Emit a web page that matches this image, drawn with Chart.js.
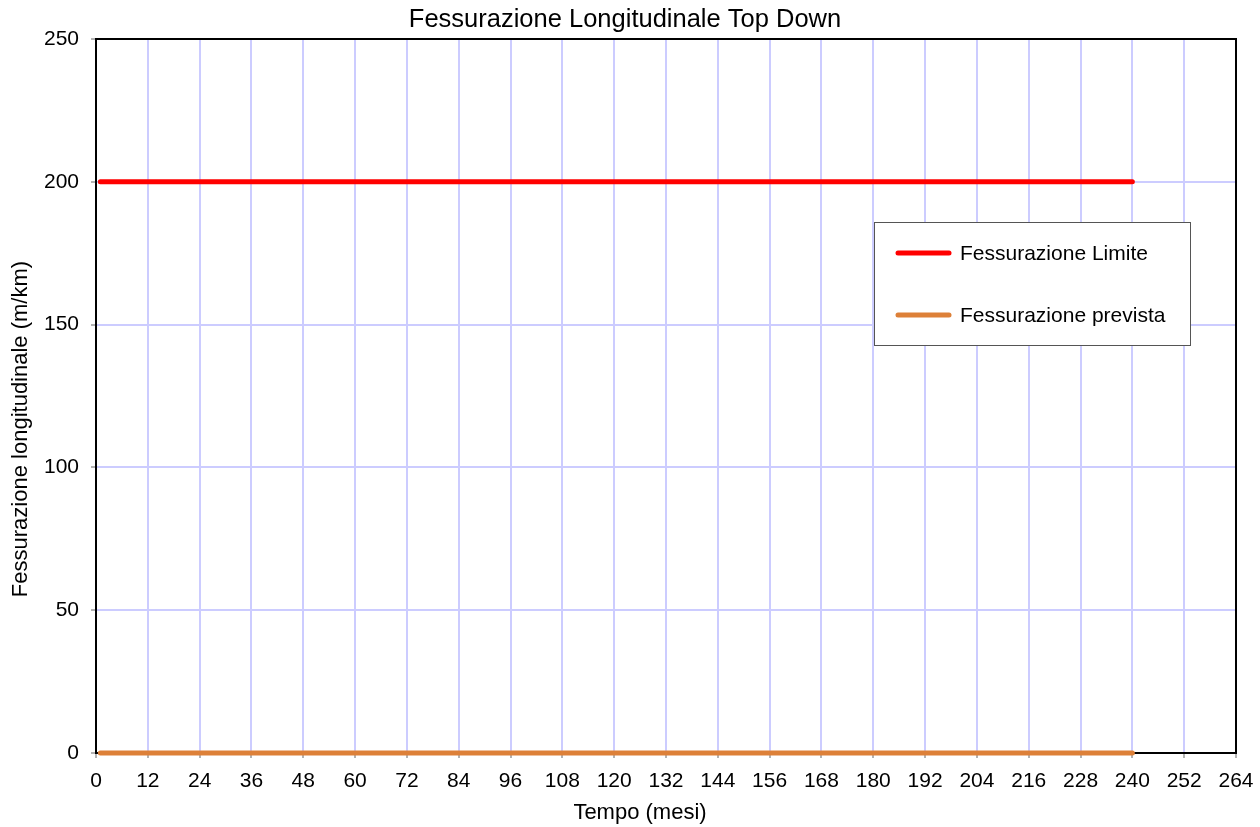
<!DOCTYPE html>
<html>
<head>
<meta charset="utf-8">
<script src="https://cdn.jsdelivr.net/npm/chart.js@4"></script>
<style>
  html, body { margin: 0; padding: 0; background: #fff; }
  #wrap { width: 1260px; height: 827px; }
</style>
</head>
<body>
<div id="wrap"><canvas id="myChart" width="1260" height="827"></canvas></div>
<script>
// Data
const chartTitle = 'Fessurazione Longitudinale Top Down';
const xTitle = 'Tempo (mesi)';
const yTitle = 'Fessurazione longitudinale (m/km)';
const seriesLabels = ['Fessurazione Limite', 'Fessurazione prevista'];
const months = [1, 240];                 // first and last month plotted
const limiteValues = [200, 200];         // m/km
const previstaValues = [0, 0];           // m/km
const xTicks = [0, 12, 24, 36, 48, 60, 72, 84, 96, 108, 120, 132, 144, 156, 168, 180, 192, 204, 216, 228, 240, 252, 264];
const yTicks = [0, 50, 100, 150, 200, 250];

const FONT = 'Liberation Sans, Arial, sans-serif';
const colors = ['#ff0000', '#dd8038'];

function points(xs, ys) {
    return xs.map((x, i) => ({ x: x, y: ys[i] }));
}

// plot frame drawn under the data, like the original
const framePlugin = {
    id: 'frame',
    beforeDatasetsDraw(chart) {
        const a = chart.chartArea;
        const c = chart.ctx;
        c.save();
        c.strokeStyle = '#000';
        c.lineWidth = 2;
        c.strokeRect(a.left, a.top, a.right - a.left, a.bottom - a.top);
        c.restore();
    }
};

// titles placed where the original has them (not centred on the plot)
const titlesPlugin = {
    id: 'titles',
    afterDraw(chart) {
        const c = chart.ctx;
        c.save();
        c.fillStyle = '#000';
        c.textAlign = 'center';
        c.textBaseline = 'middle';
        c.font = '25.5px ' + FONT;
        c.fillText(chartTitle, 625, 20);
        c.font = '22px ' + FONT;
        c.fillText(xTitle, 640, 813);
        c.translate(21, 429);
        c.rotate(-Math.PI / 2);
        c.fillText(yTitle, 0, 0);
        c.restore();
    }
};

// boxed legend inside the plot area
const boxLegend = {
    id: 'boxLegend',
    afterDraw(chart) {
        const c = chart.ctx;
        const x = 874, y = 222, w = 316, h = 123;
        c.save();
        c.fillStyle = '#fff';
        c.fillRect(x, y, w, h);
        c.strokeStyle = '#555';
        c.lineWidth = 1;
        c.strokeRect(x + 0.5, y + 0.5, w, h);
        c.font = '21px ' + FONT;
        c.textBaseline = 'middle';
        chart.data.datasets.forEach((ds, i) => {
            const ly = y + 31 + i * 62;
            c.strokeStyle = ds.borderColor;
            c.lineWidth = 5;
            c.lineCap = 'round';
            c.beginPath();
            c.moveTo(898, ly);
            c.lineTo(949, ly);
            c.stroke();
            c.fillStyle = '#000';
            c.fillText(ds.label, 960, ly + 1);
        });
        c.restore();
    }
};

const ctx = document.getElementById('myChart').getContext('2d');
const myChart = new Chart(ctx, {
    type: 'line',
    data: {
        datasets: [
            { label: seriesLabels[0], data: points(months, limiteValues), borderColor: colors[0], backgroundColor: colors[0], borderWidth: 5, borderCapStyle: 'round', pointRadius: 0, clip: false },
            { label: seriesLabels[1], data: points(months, previstaValues), borderColor: colors[1], backgroundColor: colors[1], borderWidth: 5, borderCapStyle: 'round', pointRadius: 0, clip: false }
        ]
    },
    options: {
        responsive: false,
        animation: false,
        layout: { padding: { left: 0, right: 24, top: 39, bottom: 0 } },
        scales: {
            x: {
                type: 'linear',
                min: 0,
                max: 264,
                afterBuildTicks: (axis) => { axis.ticks = xTicks.map(v => ({ value: v })); },
                afterFit: (axis) => { axis.height = 74; axis.paddingLeft = 0; axis.paddingRight = 0; },
                ticks: { color: '#000', font: { family: FONT, size: 21 }, padding: 11, maxRotation: 0, autoSkip: false },
                grid: { color: '#ccccff', lineWidth: 2, tickColor: '#666', tickLength: 5, tickWidth: 1 },
                border: { color: '#000', width: 2 }
            },
            y: {
                min: 0,
                max: 250,
                afterBuildTicks: (axis) => { axis.ticks = yTicks.map(v => ({ value: v })); },
                afterFit: (axis) => { axis.width = 96; },
                ticks: { color: '#000', font: { family: FONT, size: 21 }, padding: 12 },
                grid: { color: '#ccccff', lineWidth: 2, tickColor: '#666', tickLength: 5, tickWidth: 1 },
                border: { color: '#000', width: 2 }
            }
        },
        plugins: {
            legend: { display: false },
            tooltip: { enabled: false },
            title: { display: false }
        }
    },
    plugins: [framePlugin, titlesPlugin, boxLegend]
});
</script>
</body>
</html>
